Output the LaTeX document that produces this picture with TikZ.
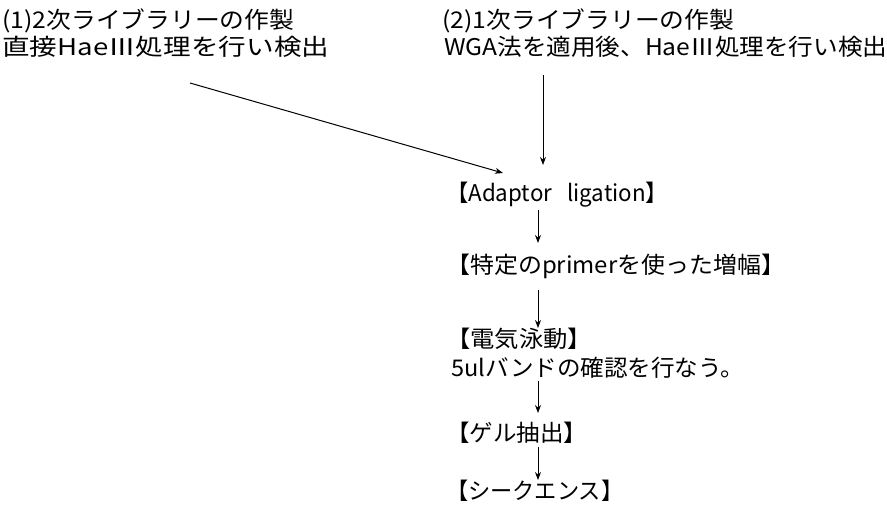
\documentclass[tikz,border=0pt]{standalone}
\usepackage{graphicx}
\usepackage{fontspec}
\setmainfont{Noto Sans CJK JP}
\usetikzlibrary{arrows.meta}
\newcommand{\fitw}[2]{\resizebox{#1pt}{\height}{#2}}
\tikzset{
  txt/.style={anchor=west,inner sep=0pt,font=\fontsize{23}{27}\selectfont},
  arr/.style={line width=1pt,-{Stealth[length=8pt,width=6pt]}}
}
\begin{document}
\begin{tikzpicture}[x=1pt,y=-1pt]
\useasboundingbox (0,0) rectangle (887,509);
\node[txt] (t1a) at (2,21) {\fitw{292}{(1)2次ライブラリーの作製}};
\node[txt] (t1b) at (2,47) {\fitw{327}{直接HaeⅢ処理を行い検出}};
\node[txt] (t2a) at (442,21) {\fitw{292}{(2)1次ライブラリーの作製}};
\node[txt] (t2b) at (444,47) {\fitw{443}{WGA法を適用後、HaeⅢ処理を行い検出}};
\node[txt] (n1) at (446,195) {\fitw{222}{【Adaptor\ \ \ ligation】}};
\node[txt] (n2) at (446,266) {\fitw{339}{【特定のprimerを使った増幅】}};
\node[txt] (n3) at (446,339) {\fitw{146}{【電気泳動】}};
\node[txt] (n4) at (451,368) {\fitw{293}{5ulバンドの確認を行なう。}};
\node[txt] (n5) at (446,433) {\fitw{141}{【ゲル抽出】}};
\node[txt] (n6) at (446,491) {\fitw{177}{【シークエンス】}};
\coordinate (a1) at (190,83);
\coordinate (a2) at (503,173);
\coordinate (b1) at (543,75);
\coordinate (b2) at (543,165);
\coordinate (c1) at (538,210);
\coordinate (c2) at (538,243);
\coordinate (d1) at (538,290);
\coordinate (d2) at (538,328);
\coordinate (e1) at (538,381);
\coordinate (e2) at (538,413);
\coordinate (f1) at (538,447);
\coordinate (f2) at (538,480);
\draw[arr] (a1) -- (a2);
\draw[arr] (b1) -- (b2);
\draw[arr] (c1) -- (c2);
\draw[arr] (d1) -- (d2);
\draw[arr] (e1) -- (e2);
\draw[arr] (f1) -- (f2);
\end{tikzpicture}
\end{document}
